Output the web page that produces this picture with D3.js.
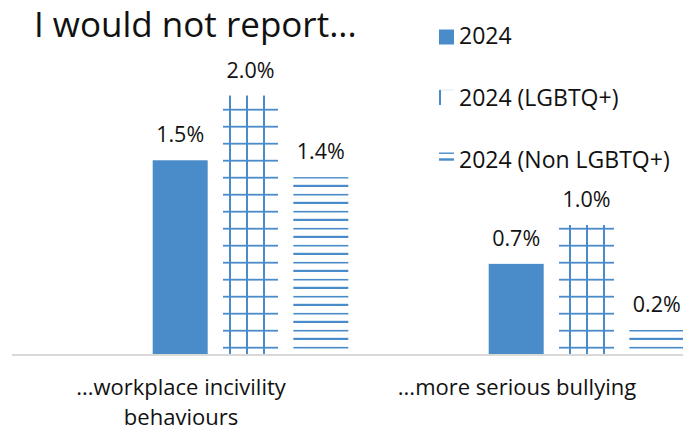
<!DOCTYPE html>
<html>
<head>
<meta charset="utf-8">
<script src="https://d3js.org/d3.v7.min.js"></script>
<style>
  body { margin: 0; background: #fff; }
  text { font-family: "Open Sans", "Noto Sans", sans-serif; fill: #111; }
</style>
</head>
<body>
<div id="chart"></div>
<script>
var categories = ["...workplace incivility behaviours", "...more serious bullying"];
var series = ["2024", "2024 (LGBTQ+)", "2024 (Non LGBTQ+)"];
var values2024 = [1.5, 0.7];
var valuesLgbtq = [2.0, 1.0];
var valuesNonLgbtq = [1.37, 0.19];
var categoryLines = [["...workplace incivility", "behaviours"], ["...more serious bullying"]];

var allValues = [values2024, valuesLgbtq, valuesNonLgbtq];
var blue = "#4a8bca";

var width = 683, height = 432;

var svg = d3.select("#chart").append("svg")
            .attr("width", width)
            .attr("height", height);

// patterns, Excel style
var defs = svg.append("defs");

var grid = defs.append("pattern")
               .attr("id", "grid")
               .attr("patternUnits", "userSpaceOnUse")
               .attr("width", 17)
               .attr("height", 17);
grid.append("rect").attr("width", 17).attr("height", 17).attr("fill", "#fff");
grid.append("rect").attr("x", 0).attr("y", 6.8).attr("width", 17).attr("height", 1.8).attr("fill", blue);
grid.append("rect").attr("x", 8).attr("y", 0).attr("width", 2).attr("height", 17).attr("fill", blue);

var hlines = defs.append("pattern")
                 .attr("id", "hlines")
                 .attr("patternUnits", "userSpaceOnUse")
                 .attr("width", 17)
                 .attr("height", 17);
hlines.append("rect").attr("width", 17).attr("height", 17).attr("fill", "#fff");
hlines.append("rect").attr("x", 0).attr("y", 6.9).attr("width", 17).attr("height", 1.6).attr("fill", blue);
hlines.append("rect").attr("x", 0).attr("y", 14.8).attr("width", 17).attr("height", 2.6).attr("fill", blue);

var fills = [blue, "url(#grid)", "url(#hlines)"];

var x0 = d3.scaleBand()
           .domain(categories)
           .range([12, 684])
           .padding(0);

var x1 = d3.scaleBand()
           .domain(series)
           .range([140.7, 336.3])
           .paddingInner(0.218)
           .paddingOuter(0);

var y = d3.scaleLinear()
          .domain([0, 2.5])
          .range([354.5, 30.8]);

// title
svg.append("text")
   .attr("x", 34)
   .attr("y", 37)
   .attr("font-size", "35px")
   .text("I would not report...");

// bars
categories.forEach(function (cat, ci) {
  series.forEach(function (s, si) {
    var v = allValues[si][ci];
    var bx = x0(cat) + x1(s);
    svg.append("rect")
       .attr("x", bx)
       .attr("y", y(v))
       .attr("width", x1.bandwidth())
       .attr("height", y(0) - y(v))
       .attr("fill", fills[si]);

    svg.append("text")
       .attr("x", bx + x1.bandwidth() / 2)
       .attr("y", y(v) - 18)
       .attr("text-anchor", "middle")
       .attr("font-size", "21.5px")
       .text(v.toFixed(1) + "%");
  });
});

// axis line
svg.append("line")
   .attr("x1", 12)
   .attr("x2", 683)
   .attr("y1", y(0) + 0.5)
   .attr("y2", y(0) + 0.5)
   .attr("stroke", "#d9d9d9")
   .attr("stroke-width", 2);

// category labels
categories.forEach(function (cat, ci) {
  var t = svg.append("text")
             .attr("text-anchor", "middle")
             .attr("font-size", "22px");
  categoryLines[ci].forEach(function (line, li) {
    t.append("tspan")
     .attr("x", x0(cat) + x0.bandwidth() / 2 + 1)
     .attr("y", 395.3 + li * 30)
     .text(line);
  });
});

// legend
var legendY = [44, 106, 168];
var legend = svg.append("g");

legend.append("rect")
      .attr("x", 439).attr("y", 29.5)
      .attr("width", 15).attr("height", 15)
      .attr("fill", blue);

legend.append("rect")
      .attr("x", 439).attr("y", 89.5)
      .attr("width", 15).attr("height", 1)
      .attr("fill", "#dce8f4");
legend.append("rect")
      .attr("x", 439).attr("y", 90)
      .attr("width", 2).attr("height", 15)
      .attr("fill", blue);

legend.append("rect")
      .attr("x", 439).attr("y", 152.5)
      .attr("width", 15).attr("height", 1.4)
      .attr("fill", blue);
legend.append("rect")
      .attr("x", 439).attr("y", 158.3)
      .attr("width", 15).attr("height", 2.4)
      .attr("fill", blue);

series.forEach(function (s, si) {
  legend.append("text")
        .attr("x", 459)
        .attr("y", legendY[si])
        .attr("font-size", "23px")
        .text(s);
});
</script>
</body>
</html>
